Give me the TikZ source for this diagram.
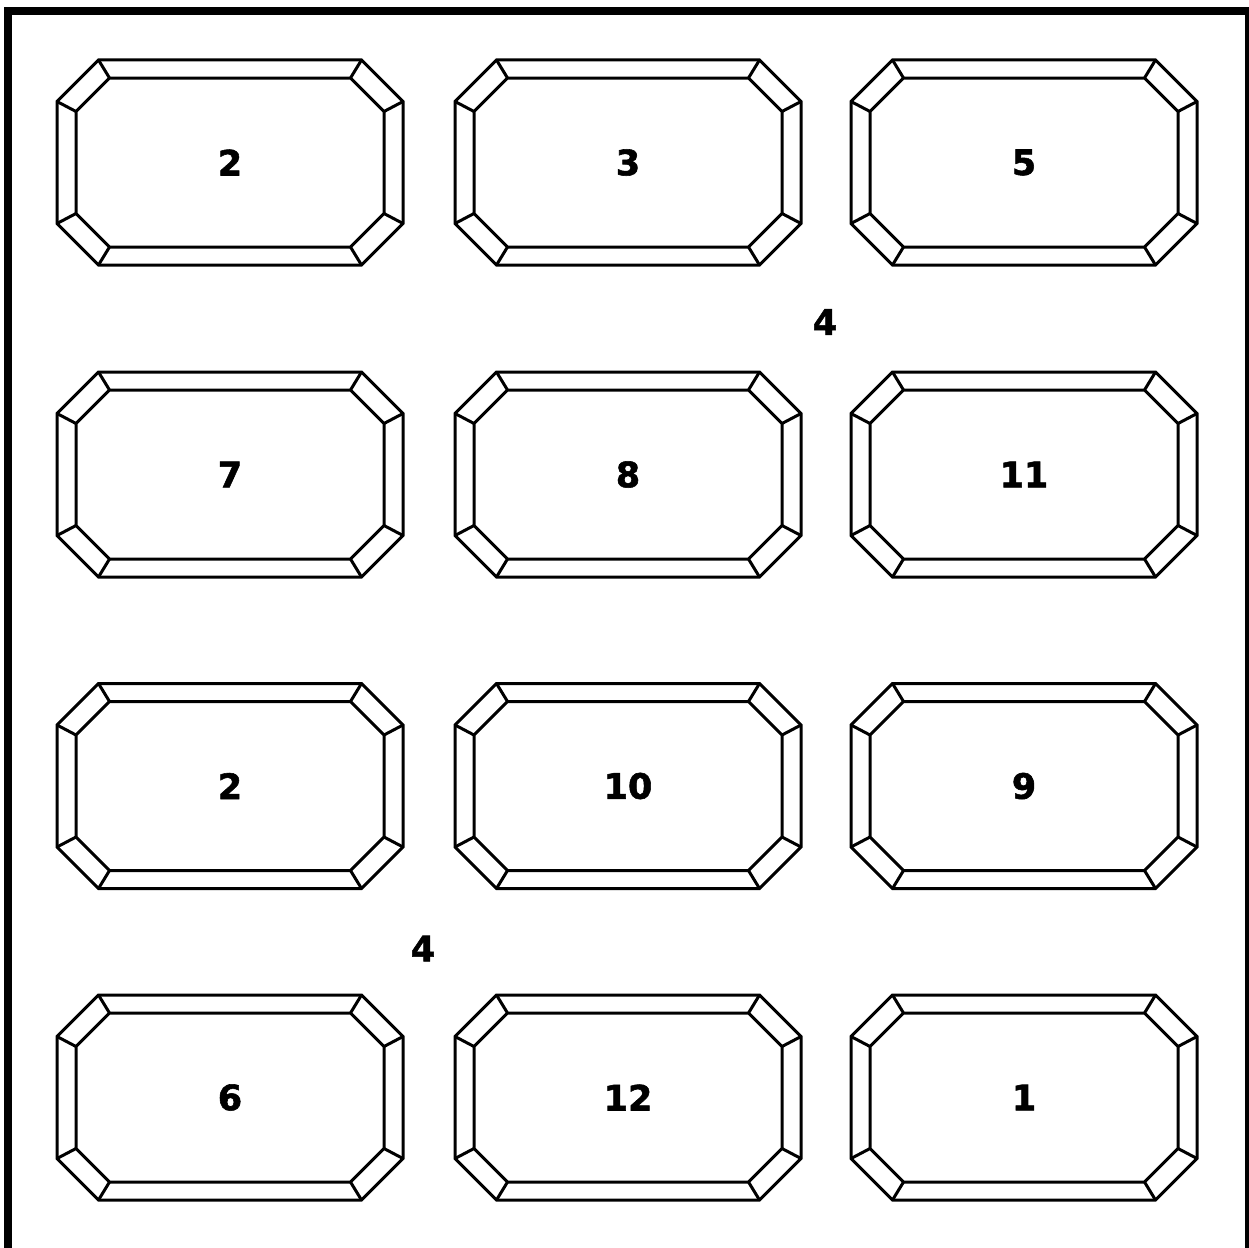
\documentclass[tikz,border=0pt]{standalone}
\usepackage{fontspec}
\newfontfamily\numfont{DejaVu Sans Bold}[FakeBold=1.6]
\usetikzlibrary{positioning}

\tikzset{
  gem line/.style={line width=3pt, black},
  tilenum/.style={font=\numfont\fontsize{35}{35}\selectfont, inner sep=0pt},
  pics/gem/.style={code={
    % outer frame
    \draw[gem line] (-173,-61) -- (-131.5,-102.5) -- (131.5,-102.5) -- (173,-61)
      -- (173,61) -- (131.5,102.5) -- (-131.5,102.5) -- (-173,61) -- cycle;
    % inner frame
    \draw[gem line] (-154,-51) -- (-120.5,-84.5) -- (120.5,-84.5) -- (154,-51)
      -- (154,51) -- (120.5,84.5) -- (-120.5,84.5) -- (-154,51) -- cycle;
    % bevel edges
    \draw[gem line] (-173,-61) -- (-154,-51) (-131.5,-102.5) -- (-120.5,-84.5)
      (131.5,-102.5) -- (120.5,-84.5) (173,-61) -- (154,-51)
      (173,61) -- (154,51) (131.5,102.5) -- (120.5,84.5)
      (-131.5,102.5) -- (-120.5,84.5) (-173,61) -- (-154,51);
  }}
}

\begin{document}
\begin{tikzpicture}[x=1pt, y=-1pt]
  \useasboundingbox (0,0) rectangle (1249,1247);
  % outer border
  \draw[line width=8pt] (8,11) rectangle (1249,1256);
  % tiles
  \foreach \lbl/\px/\py [count=\i] in {2/230/162.5, 3/628/162.5, 5/1024/162.5,
      7/230/474.5, 8/628/474.5, 11/1024/474.5,
      2/230/786, 10/628/786, 9/1024/786,
      6/230/1097.5, 12/628/1097.5, 1/1024/1097.5} {
    \pic at (\px,\py) {gem};
    \node[tilenum] (num\i) at (\px,\py) {\lbl};
  }
  % loose labels
  \node[tilenum] (gapA) at (825,322) {4};
  \node[tilenum] (gapB) at (423,948.5) {4};
\end{tikzpicture}
\end{document}
